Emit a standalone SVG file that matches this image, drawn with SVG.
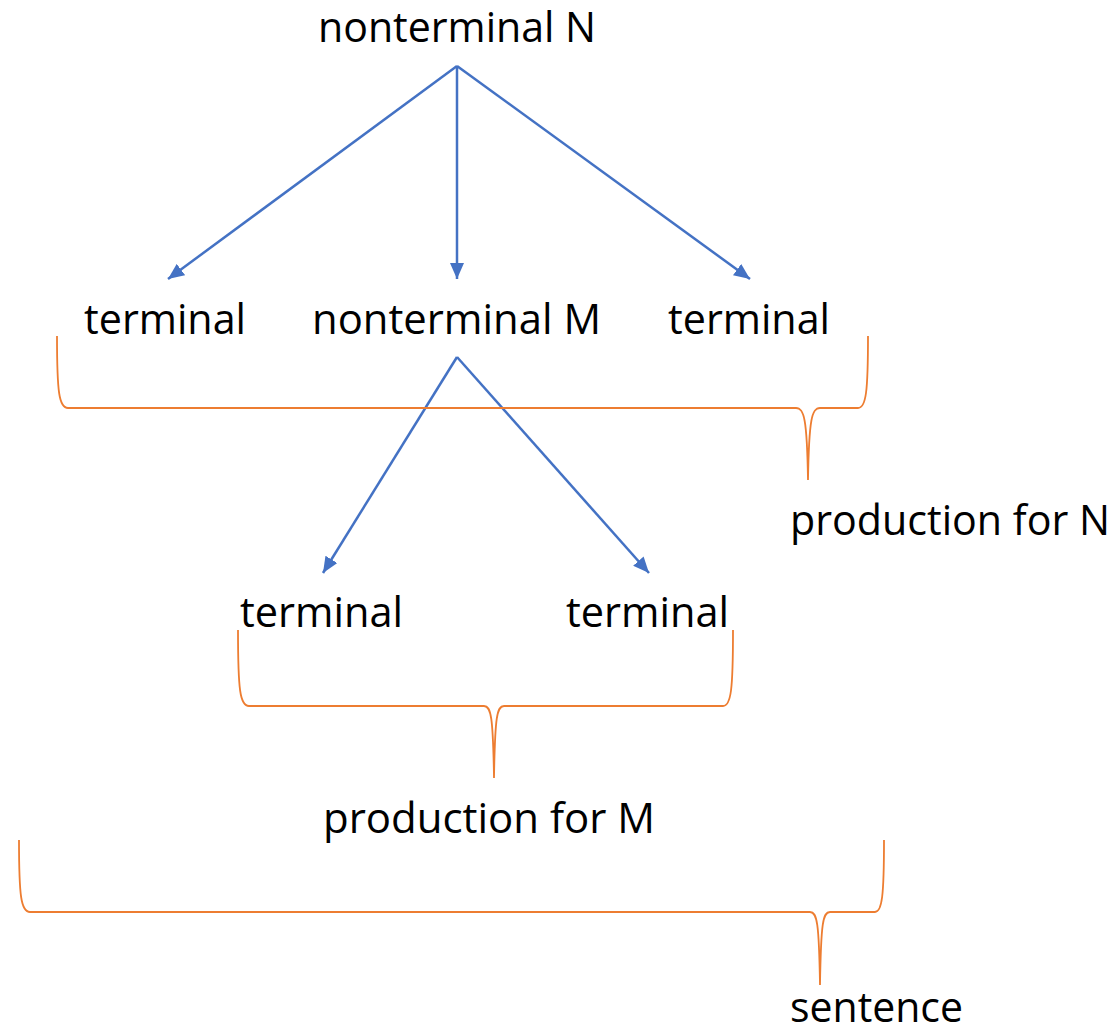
<svg xmlns="http://www.w3.org/2000/svg" width="1117" height="1028" viewBox="0 0 1117 1028">
  <style>
    .lbl { font-family: "Open Sans", "Liberation Sans", sans-serif; font-size: 42px; fill: #000; }
    .edge { stroke: #4472C4; stroke-width: 2.5; fill: none; marker-end: url(#arrow); }
    .brace { stroke: #ED7D31; stroke-width: 1.8; fill: none; }
  </style>
  <defs>
    <marker id="arrow" markerUnits="userSpaceOnUse" viewBox="0 0 16 14" refX="16" refY="7" markerWidth="16" markerHeight="14" orient="auto">
      <path d="M0,0 L16,7 L0,14 Z" fill="#4472C4"/>
    </marker>
  </defs>

  <rect width="1117" height="1028" fill="#fff"/>

  <!-- derivation edges -->
  <g id="connectors">
    <line class="edge" x1="457" y1="66" x2="168" y2="279"/>
    <line class="edge" x1="457" y1="66" x2="457" y2="279"/>
    <line class="edge" x1="457" y1="66" x2="750" y2="279"/>
    <line class="edge" x1="457" y1="357" x2="323" y2="573"/>
    <line class="edge" x1="457" y1="357" x2="649" y2="573"/>
  </g>

  <!-- grouping braces -->
  <g id="brace-production-N">
    <path class="brace" d="M57,336 C57,392 59,408 68,408 L796,408 C804,408 807,418 808,480 C809,418 812,408 820,408 L858,408 C866,408 868,392 868,336"/>
  </g>
  <g id="brace-production-M">
    <path class="brace" d="M238,630 C238,690 240,706 249,706 L484,706 C491,706 493,716 494,778 C495,716 497,706 504,706 L723,706 C731,706 733,690 733,630"/>
  </g>
  <g id="brace-sentence">
    <path class="brace" d="M19,840 C19,896 21,912 30,912 L810,912 C817,912 819,922 820,985 C821,922 823,912 830,912 L875,912 C882,912 884,896 884,840"/>
  </g>

  <!-- nodes -->
  <g id="node-nonterminal-N">
    <text class="lbl" x="318" y="42" textLength="278" lengthAdjust="spacingAndGlyphs">nonterminal N</text>
  </g>
  <g id="node-terminal-1">
    <text class="lbl" x="84" y="334" textLength="162" lengthAdjust="spacingAndGlyphs">terminal</text>
  </g>
  <g id="node-nonterminal-M">
    <text class="lbl" x="312" y="334" textLength="289" lengthAdjust="spacingAndGlyphs">nonterminal M</text>
  </g>
  <g id="node-terminal-2">
    <text class="lbl" x="668" y="334" textLength="162" lengthAdjust="spacingAndGlyphs">terminal</text>
  </g>
  <g id="label-production-N">
    <text class="lbl" x="790" y="535" textLength="320" lengthAdjust="spacingAndGlyphs">production for N</text>
  </g>
  <g id="node-terminal-3">
    <text class="lbl" x="240" y="627" textLength="163" lengthAdjust="spacingAndGlyphs">terminal</text>
  </g>
  <g id="node-terminal-4">
    <text class="lbl" x="566" y="627" textLength="163" lengthAdjust="spacingAndGlyphs">terminal</text>
  </g>
  <g id="label-production-M">
    <text class="lbl" x="323" y="833" textLength="332" lengthAdjust="spacingAndGlyphs">production for M</text>
  </g>
  <g id="label-sentence">
    <text class="lbl" x="790" y="1022" textLength="173" lengthAdjust="spacingAndGlyphs">sentence</text>
  </g>
</svg>
